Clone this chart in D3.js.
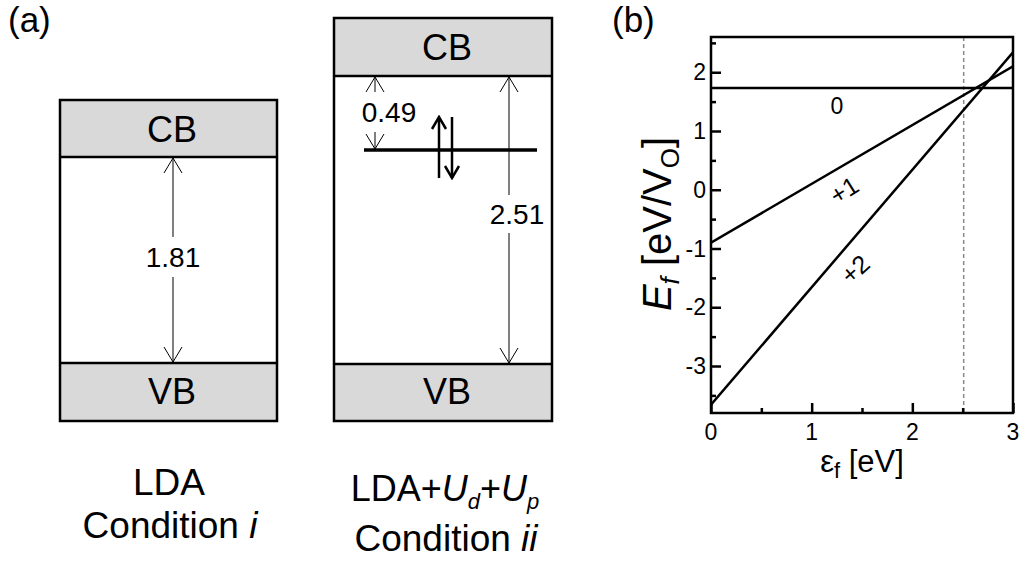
<!DOCTYPE html>
<html>
<head>
<meta charset="utf-8">
<script src="https://cdn.jsdelivr.net/npm/d3@7"></script>
<style>
  html, body { margin: 0; padding: 0; background: #fff; }
  svg { display: block; font-family: Arial, "Liberation Sans", sans-serif; }
</style>
</head>
<body>
<svg id="fig" width="1022" height="563"></svg>
<script>
// ---- Panel (a): band-gap schematics ----
const conditions = ["LDA", "LDA+Ud+Up"];
const bandGaps = [1.81, 2.51];          // eV, CB-VB separation
const defectDepth = 0.49;               // eV below CB (condition ii)

// ---- Panel (b): formation energy vs Fermi level ----
const fermiRange = [0, 3];              // eV, line end points
const chargeLabels = ["0", "+1", "+2"];
const formationEnergy = [              // E_f at eps_f = 0 and eps_f = 3
  [1.73, 1.73],
  [-0.90, 2.10],
  [-3.66, 2.34]
];
const xTicks = [0, 1, 2, 3];
const yTicks = [-3, -2, -1, 0, 1, 2];
const gapMarker = 2.51;

const svg = d3.select("#fig");

// arrowhead markers
const defs = svg.append("defs");
function marker(id, len, half, sw) {
  defs.append("marker")
    .attr("id", id)
    .attr("markerUnits", "userSpaceOnUse")
    .attr("viewBox", `${-len - 2} ${-half - 2} ${len + 4} ${2 * half + 4}`)
    .attr("refX", 0).attr("refY", 0)
    .attr("markerWidth", len + 4).attr("markerHeight", 2 * half + 4)
    .attr("orient", "auto-start-reverse")
    .append("path")
    .attr("d", `M${-len},${-half} L0,0 L${-len},${half}`)
    .attr("fill", "none").attr("stroke", "#000").attr("stroke-width", sw);
}
marker("thin", 15, 9, 1);
marker("spin", 12, 7, 2.5);

// panel labels
svg.append("text").attr("x", 8).attr("y", 32).attr("font-size", 35).text("(a)");
svg.append("text").attr("x", 612).attr("y", 32).attr("font-size", 35).text("(b)");

// box geometry for the two schematics
const boxes = [
  { x0: 60, x1: 277, top: 100, cb: 157, vb: 363, bot: 421, cx: 172, cbY: 142 },
  { x0: 334, x1: 552, top: 18, cb: 76, vb: 364, bot: 421, cx: 447, cbY: 60 }
];
const gA = svg.append("g");
boxes.forEach((b) => {
  const g = gA.append("g");
  g.append("rect").attr("x", b.x0).attr("y", b.top).attr("width", b.x1 - b.x0).attr("height", b.cb - b.top)
    .attr("fill", "#d9d9d9").attr("stroke", "none");
  g.append("rect").attr("x", b.x0).attr("y", b.vb).attr("width", b.x1 - b.x0).attr("height", b.bot - b.vb)
    .attr("fill", "#d9d9d9").attr("stroke", "none");
  g.append("rect").attr("x", b.x0).attr("y", b.top).attr("width", b.x1 - b.x0).attr("height", b.bot - b.top)
    .attr("fill", "none").attr("stroke", "#000").attr("stroke-width", 2.5);
  [b.cb, b.vb].forEach(y => g.append("line").attr("x1", b.x0).attr("x2", b.x1).attr("y1", y).attr("y2", y)
    .attr("stroke", "#000").attr("stroke-width", 2.5));
  g.append("text").attr("x", b.cx).attr("y", b.cbY).attr("text-anchor", "middle")
    .attr("font-size", 36).text("CB");
  g.append("text").attr("x", b.cx).attr("y", 404).attr("text-anchor", "middle")
    .attr("font-size", 36).text("VB");
});

// gap arrow with a label that interrupts the shaft
function gapArrow(x, y1, y2, label, lx, ly, pad) {
  gA.append("line").attr("x1", x).attr("x2", x).attr("y1", y1).attr("y2", y2)
    .attr("stroke", "#000").attr("stroke-width", 1)
    .attr("marker-start", "url(#thin)").attr("marker-end", "url(#thin)");
  const t = gA.append("text").attr("x", lx).attr("y", ly).attr("text-anchor", "middle")
    .attr("font-size", 28).text(label);
  const bb = t.node().getBBox();
  gA.insert("rect", () => t.node())
    .attr("x", bb.x).attr("y", ly - 20 - pad).attr("width", bb.width).attr("height", 20 + 2 * pad)
    .attr("fill", "#fff");
}
gapArrow(173, 158, 362, bandGaps[0].toFixed(2), 173, 267, 10);
gapArrow(509, 77, 363, bandGaps[1].toFixed(2), 517, 224, 9);
gapArrow(375, 77, 149, defectDepth.toFixed(2), 389, 122, 10);

// defect level with paired spins
gA.append("line").attr("x1", 364).attr("x2", 537).attr("y1", 150).attr("y2", 150)
  .attr("stroke", "#000").attr("stroke-width", 3.5);
gA.append("line").attr("x1", 439).attr("x2", 439).attr("y1", 178).attr("y2", 117)
  .attr("stroke", "#000").attr("stroke-width", 2.5).attr("marker-end", "url(#spin)");
gA.append("line").attr("x1", 452).attr("x2", 452).attr("y1", 117).attr("y2", 178)
  .attr("stroke", "#000").attr("stroke-width", 2.5).attr("marker-end", "url(#spin)");

// condition captions
gA.append("text").attr("x", 169).attr("y", 495).attr("text-anchor", "middle").attr("font-size", 37)
  .text(conditions[0]);
const c1b = gA.append("text").attr("x", 170).attr("y", 538).attr("text-anchor", "middle").attr("font-size", 37);
c1b.append("tspan").text("Condition ");
c1b.append("tspan").attr("font-style", "italic").text("i");

const cap2 = gA.append("text").attr("x", 445).attr("y", 501).attr("text-anchor", "middle").attr("font-size", 36);
cap2.append("tspan").text("LDA+");
cap2.append("tspan").attr("font-style", "italic").text("U");
cap2.append("tspan").attr("font-style", "italic").attr("font-size", 22).attr("dy", 8).text("d");
cap2.append("tspan").attr("dy", -8).text("+");
cap2.append("tspan").attr("font-style", "italic").text("U");
cap2.append("tspan").attr("font-style", "italic").attr("font-size", 22).attr("dy", 8).text("p");
const c2b = gA.append("text").attr("x", 446).attr("y", 551).attr("text-anchor", "middle").attr("font-size", 37);
c2b.append("tspan").text("Condition ");
c2b.append("tspan").attr("font-style", "italic").text("ii");

// ---- Panel (b) ----
const L = 711, R = 1013, T = 37, B = 413;
const x = d3.scaleLinear().domain([0, 3]).range([L, R]);
const y = d3.scaleLinear().domain([-3.8, 2.6]).range([B, T]);
const gB = svg.append("g");

gB.append("defs").append("clipPath").attr("id", "plotclip")
  .append("rect").attr("x", L).attr("y", T).attr("width", R - L).attr("height", B - T);

// band-gap marker
gB.append("line").attr("x1", x(gapMarker)).attr("x2", x(gapMarker)).attr("y1", T).attr("y2", B)
  .attr("stroke", "#8a8a8a").attr("stroke-width", 1.5).attr("stroke-dasharray", "4,3");

const line = d3.line().x((d, i) => x(fermiRange[i])).y(d => y(d));
gB.append("g").attr("clip-path", "url(#plotclip)")
  .selectAll("path").data(formationEnergy).join("path")
  .attr("d", line).attr("fill", "none").attr("stroke", "#000").attr("stroke-width", 2.5);

// axes with inward ticks
const xAxis = d3.axisBottom(x).tickValues(d3.range(0, 3.01, 0.5)).tickSize(-5).tickFormat("");
const gx = gB.append("g").attr("transform", `translate(0,${B})`).call(xAxis);
gx.selectAll(".tick line").filter(d => Number.isInteger(d)).attr("y2", -10);
const yAxis = d3.axisLeft(y).tickValues(d3.range(-3.5, 2.51, 0.5)).tickSize(-5).tickFormat("");
const gy = gB.append("g").attr("transform", `translate(${L},0)`).call(yAxis);
gy.selectAll(".tick line").filter(d => Number.isInteger(d)).attr("x2", 10);
[gx, gy].forEach(g => {
  g.select(".domain").remove();
  g.selectAll(".tick line").attr("stroke", "#000").attr("stroke-width", 2.5);
});

gB.append("rect").attr("x", L).attr("y", T).attr("width", R - L).attr("height", B - T)
  .attr("fill", "none").attr("stroke", "#000").attr("stroke-width", 2.5);

// tick labels
gB.selectAll(".xl").data(xTicks).join("text")
  .attr("x", d => x(d)).attr("y", 440).attr("text-anchor", "middle").attr("font-size", 23)
  .text(d => d);
gB.selectAll(".yl").data(yTicks).join("text")
  .attr("x", 706).attr("y", d => y(d) + 8).attr("text-anchor", "end").attr("font-size", 23)
  .text(d => d < 0 ? "-" + Math.abs(d) : d);

// charge-state labels
gB.append("text").attr("x", 837).attr("y", 114).attr("text-anchor", "middle").attr("font-size", 23).text(chargeLabels[0]);
gB.append("text").attr("transform", "translate(844,190) rotate(-32)").attr("text-anchor", "middle")
  .attr("dominant-baseline", "central").attr("font-size", 25).text(chargeLabels[1]);
gB.append("text").attr("transform", "translate(855,269) rotate(-42)").attr("text-anchor", "middle")
  .attr("dominant-baseline", "central").attr("font-size", 25).text(chargeLabels[2]);

// axis titles
const xt = gB.append("text").attr("x", 862).attr("y", 472).attr("text-anchor", "middle").attr("font-size", 31);
xt.append("tspan").text("\u03b5");
xt.append("tspan").attr("font-size", 22).attr("dy", 6).text("f");
xt.append("tspan").attr("dy", -6).text(" [eV]");

const yt = gB.append("text").attr("transform", "translate(671,224) rotate(-90)")
  .attr("text-anchor", "middle").attr("font-size", 40);
yt.append("tspan").attr("font-style", "italic").text("E");
yt.append("tspan").attr("font-style", "italic").attr("font-size", 26).attr("dy", 8).text("f");
yt.append("tspan").attr("dy", -8).text(" [eV/V");
yt.append("tspan").attr("font-size", 26).attr("dy", 8).text("O");
yt.append("tspan").attr("dy", -8).text("]");
</script>
</body>
</html>
